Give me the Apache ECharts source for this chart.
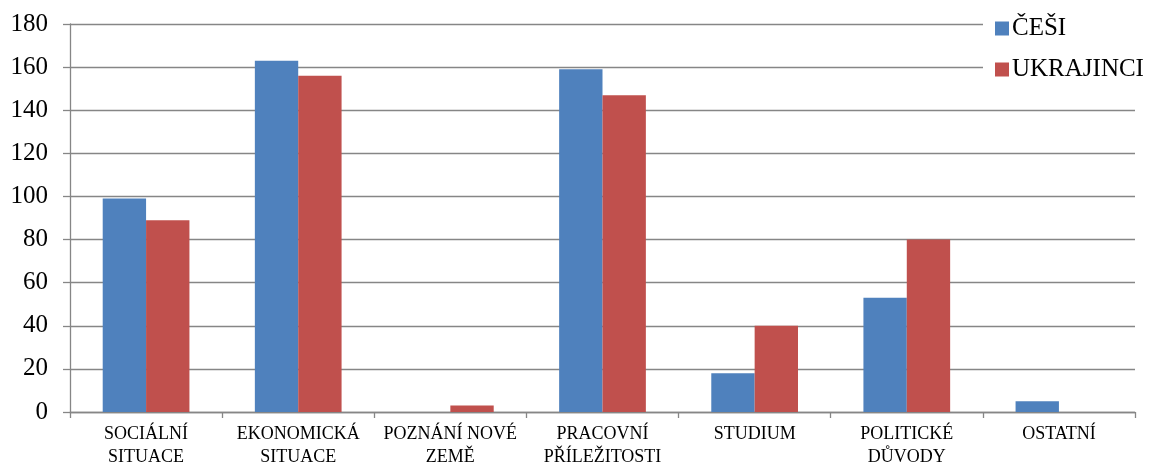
<!DOCTYPE html>
<html><head><meta charset="utf-8">
<script src="https://cdn.jsdelivr.net/npm/echarts@6/dist/echarts.min.js"></script>
<style>html,body{margin:0;padding:0;background:#fff}#c{width:1157px;height:464px}</style>
</head><body><div id="c"></div>
<script>
var categories = ['SOCIÁLNÍ\nSITUACE', 'EKONOMICKÁ\nSITUACE', 'POZNÁNÍ NOVÉ\nZEMĚ', 'PRACOVNÍ\nPŘÍLEŽITOSTI', 'STUDIUM', 'POLITICKÉ\nDŮVODY', 'OSTATNÍ'];
var cesi = [99, 163, 0, 159, 18, 53, 5];
var ukrajinci = [89, 156, 3, 147, 40, 80, 0];
var seriesNames = ['ČEŠI', 'UKRAJINCI'];

var chart = echarts.init(document.getElementById('c'));
var font = 'Liberation Serif, Times New Roman, serif';
chart.setOption({
  animation: false,
  textStyle: {fontFamily: font},
  grid: {left: 70, right: 22, top: 24, bottom: 52, containLabel: false, outerBoundsMode: 'none'},
  legend: {
    orient: 'vertical', left: 983, top: 0,
    padding: [16, 2, 16, 12],
    backgroundColor: '#fff',
    itemWidth: 14, itemHeight: 14, itemGap: 16,
    icon: 'rect',
    textStyle: {fontFamily: font, fontSize: 25, color: '#000', padding: [0, 0, 0, -2]},
    data: seriesNames
  },
  xAxis: {
    type: 'category', data: categories,
    axisLine: {lineStyle: {color: '#868686', width: 1.3}},
    axisTick: {show: true, alignWithLabel: false, length: 6, lineStyle: {color: '#868686', width: 1.3}},
    axisLabel: {fontFamily: font, fontSize: 18, color: '#000', lineHeight: 23, margin: 11, interval: 0}
  },
  yAxis: {
    type: 'value', min: 0, max: 180, interval: 20,
    axisLine: {show: true, lineStyle: {color: '#868686', width: 1.3}},
    axisTick: {show: true, length: 7, lineStyle: {color: '#868686', width: 1.3}},
    splitLine: {lineStyle: {color: '#868686', width: 1.3}},
    axisLabel: {fontFamily: font, fontSize: 25, color: '#000', margin: 22}
  },
  series: [
    {name: seriesNames[0], type: 'bar', data: cesi, barGap: '0%', barCategoryGap: '43%',
     itemStyle: {color: '#4F81BD'}},
    {name: seriesNames[1], type: 'bar', data: ukrajinci, barGap: '0%', barCategoryGap: '43%',
     itemStyle: {color: '#C0504D'}}
  ]
});
</script></body></html>
